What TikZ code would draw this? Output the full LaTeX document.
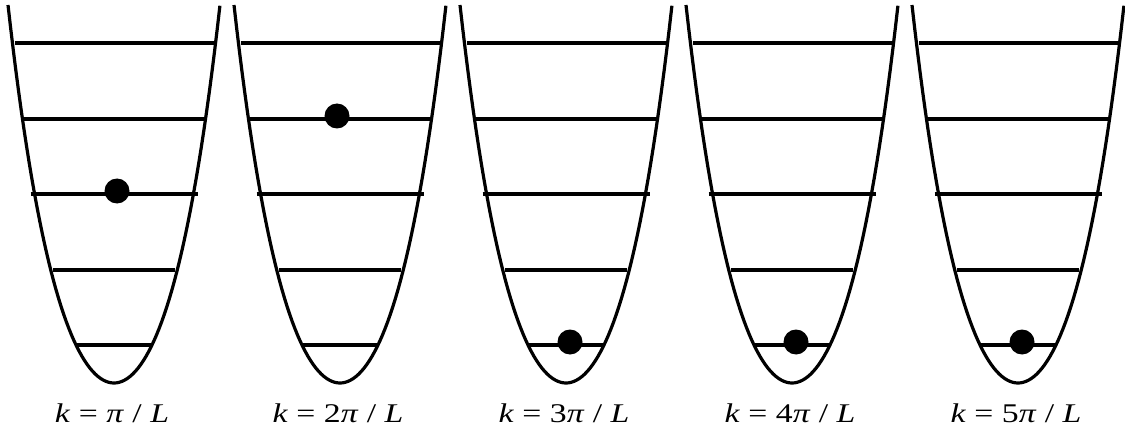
\documentclass[tikz,border=0pt]{standalone}
\usepackage{fontspec}
\setmainfont{Liberation Serif}
\usetikzlibrary{positioning}

\begin{document}
\begin{tikzpicture}[x=1pt, y=-1pt,
    well/.style={line width=3.2pt},
    level/.style={line width=3.2pt},
    particle/.style={circle, fill=black, inner sep=0pt, minimum size=25pt},
    klabel/.style={font=\fontsize{27}{30}\selectfont, inner sep=0pt, xscale=1.25}]
    \useasboundingbox (0,0) rectangle (1125,433);

    % One well per wave number: centre, occupied level, dot shift, label
    \foreach \n/\cx/\ly/\dx/\txt in {
        1/114/191/3/{\textit{k} = \textit{π} / \textit{L}},
        2/340/116/-3/{\textit{k} = 2\textit{π} / \textit{L}},
        3/566/342/4/{\textit{k} = 3\textit{π} / \textit{L}},
        4/792/342/4/{\textit{k} = 4\textit{π} / \textit{L}},
        5/1018/342/4/{\textit{k} = 5\textit{π} / \textit{L}}} {
        % Potential well
        \draw[well] plot[domain=-1.06:1.06, samples=81, variable=\u]
            ({\cx+100*\u}, {383-252.4*\u*\u-74.8*\u*\u*\u*\u});

        % Energy levels
        \foreach \y/\hw in {43/99.5, 119/91.5, 194/83.5, 270/61, 345/38.5}
            \draw[level] (\cx-\hw,\y) -- (\cx+\hw,\y);

        % Occupied state
        \node[particle] (dot\n) at (\cx+\dx,\ly) {};

        % Wave number
        \node[klabel] (k\n) at (\cx-2,413) {\txt};
    }
\end{tikzpicture}
\end{document}
